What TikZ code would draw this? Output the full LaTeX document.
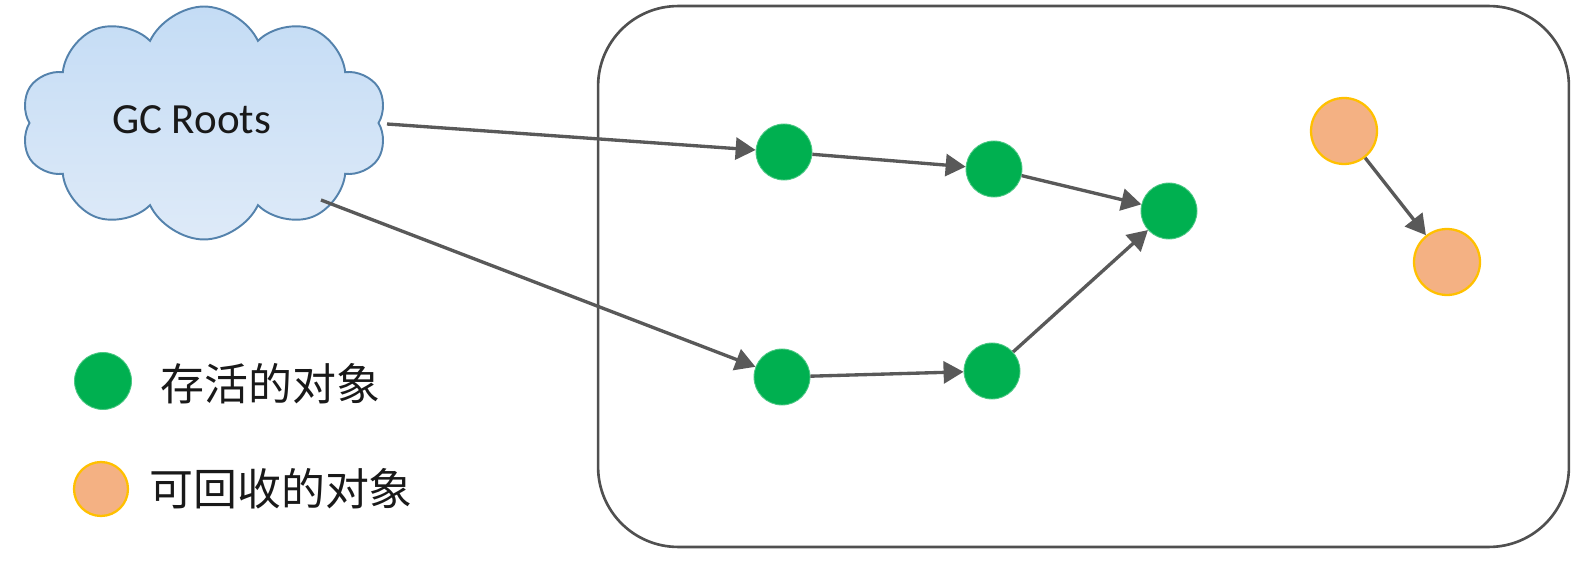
\documentclass[tikz,border=0pt]{standalone}
\usepackage{fontspec}
\setmainfont{Carlito}
\newfontfamily\cjk{Noto Sans CJK SC}
\usetikzlibrary{shapes.symbols,arrows.meta}
\definecolor{livegreen}{RGB}{0,176,80}
\definecolor{deadfill}{RGB}{244,177,131}
\definecolor{deadline}{RGB}{255,192,0}
\definecolor{arrowgray}{RGB}{89,89,89}
\definecolor{boxgray}{RGB}{80,80,80}
\definecolor{cloudline}{RGB}{84,130,172}
\definecolor{cloudtop}{RGB}{196,220,245}
\definecolor{cloudbot}{RGB}{222,234,248}
\tikzset{
  live/.style={circle, fill=livegreen, draw=livegreen!70!white, line width=0.5pt, minimum size=1.12cm, inner sep=0pt},
  dead/.style={circle, fill=deadfill, draw=deadline, line width=1.3pt, minimum size=1.32cm, inner sep=0pt},
  conn/.style={draw=arrowgray, line width=1.9pt, -{Triangle[length=0.4cm,width=0.44cm]}},
  legtext/.style={anchor=west, inner sep=0pt, font=\cjk\fontsize{25}{29}\selectfont, text=black!90},
}
\begin{document}
\begin{tikzpicture}[x=0.02cm, y=-0.02cm]
\useasboundingbox (0,0) rectangle (1578,564);
% heap region
\node[draw=boxgray, line width=1.5pt, rounded corners=1.6cm, minimum width=19.42cm, minimum height=10.82cm, inner sep=0pt] (heap) at (1083.5,276.5) {};
% GC roots cloud
\node[cloud, cloud puffs=10, cloud puff arc=130, cloud ignores aspect, minimum width=7.32cm, minimum height=4.66cm, draw=cloudline, line width=1.1pt, top color=cloudtop, bottom color=cloudbot, inner sep=0pt] (cloud) at (204,123) {};
\node[font=\fontsize{24.5}{29}\selectfont, text=black!90, inner sep=0pt] (gctext) at (191.5,120) {GC Roots};
% objects
\node[live] (g1) at (784,152) {};
\node[live] (g2) at (994,169) {};
\node[live] (g3) at (1169,211) {};
\node[live] (g4) at (782,377) {};
\node[live] (g5) at (992,371) {};
\node[dead] (o1) at (1344,131) {};
\node[dead] (o2) at (1447,262) {};
% connectors
\coordinate (c1) at (387,124);
\coordinate (c2) at (321,200);
\draw[conn] (c1) -- (g1);
\draw[conn] (c2) -- (g4);
\draw[conn] (g1) -- (g2);
\draw[conn] (g2) -- (g3);
\draw[conn] (g4) -- (g5);
\draw[conn] (g5) -- (g3);
\draw[conn] (o1) -- (o2);
% legend
\node[live, minimum size=1.14cm] (lg) at (103,381) {};
\node[legtext] (lgt) at (160,384) {存活的对象};
\node[dead, minimum size=1.08cm] (lo) at (101,489) {};
\node[legtext] (lot) at (149,489) {可回收的对象};
\end{tikzpicture}
\end{document}
